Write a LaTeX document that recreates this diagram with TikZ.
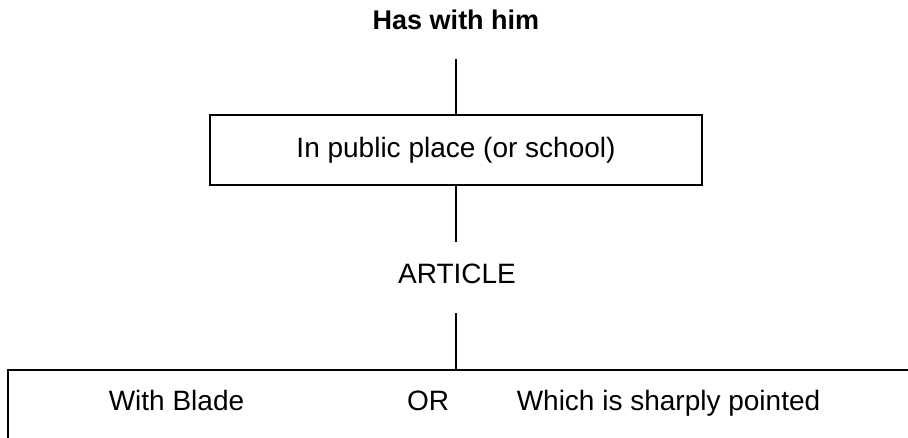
\documentclass[tikz,border=0pt]{standalone}
\usepackage{fontspec}
\setmainfont{Liberation Sans}
\begin{document}
\begin{tikzpicture}[x=1pt,y=-1pt,
  body/.style={font=\fontsize{28}{32}\selectfont, inner sep=0pt},
  titlefont/.style={font=\fontsize{27}{31}\selectfont\bfseries, inner sep=0pt},
  boxed/.style={draw, line width=1.6pt, inner sep=0pt},
  conn/.style={line width=1.6pt}]
\clip (0,0) rectangle (908,437);
\useasboundingbox (0,0) rectangle (908,437);
\node[titlefont, anchor=base] (title) at (456,29.5) {Has with him};
\node[boxed, body, minimum width=492pt, minimum height=70pt] (place) at (456,150) {In public place (or school)};
\node[body, anchor=base] (article) at (457,283) {ARTICLE};
\node[boxed, minimum width=912pt, minimum height=80pt] (bottom) at (464,410) {};
\node[body, anchor=base] (blade) at (176.5,410) {With Blade};
\node[body, anchor=base] (or) at (428,410) {OR};
\node[body, anchor=base] (pointed) at (668.5,410) {Which is sharply pointed};
\coordinate (c1) at (456,59);
\coordinate (c2) at (456,242);
\coordinate (c3) at (456,313);
\draw[conn] (c1) -- (c1 |- place.north);
\draw[conn] (c2 |- place.south) -- (c2);
\draw[conn] (c3) -- (c3 |- bottom.north);
\end{tikzpicture}
\end{document}
